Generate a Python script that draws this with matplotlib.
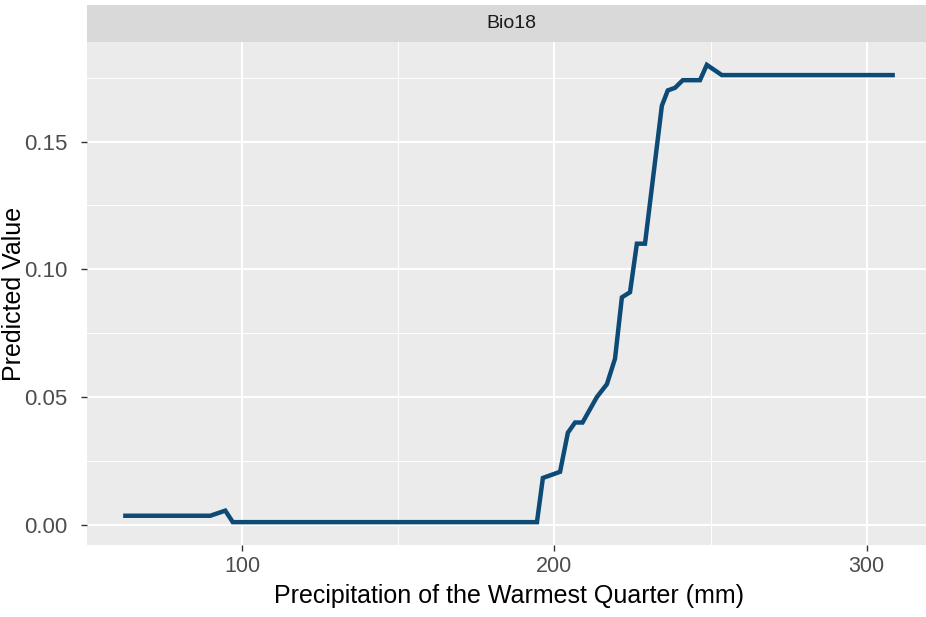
import matplotlib
matplotlib.use("Agg")
import matplotlib.pyplot as plt
from matplotlib.ticker import MultipleLocator

plt.rcParams['font.family'] = ['Liberation Sans', 'DejaVu Sans']

# Data
x_vals = [62.6, 89.8, 94.6, 97.0, 194.4, 196.3, 201.8, 204.3, 206.6, 209.0,
          213.6, 216.8, 219.4, 221.6, 224.2, 226.4, 229.0, 234.4, 236.3,
          238.6, 241.1, 246.6, 248.8, 253.6, 308.3]
y_vals = [0.0035, 0.0035, 0.0055, 0.0010, 0.0010, 0.0183, 0.0207, 0.0360, 0.0400, 0.0400,
          0.0500, 0.0550, 0.0650, 0.0890, 0.0910, 0.1100, 0.1100, 0.1640, 0.1700,
          0.1710, 0.1740, 0.1740, 0.1800, 0.1760, 0.1760]
x_ticks = [100, 200, 300]
y_ticks = [0.00, 0.05, 0.10, 0.15]
y_tick_labels = ["0.00", "0.05", "0.10", "0.15"]
strip_label = "Bio18"
x_label = "Precipitation of the Warmest Quarter (mm)"
y_label = "Predicted Value"

fig = plt.figure(figsize=(9.26, 6.17), dpi=100)
W, H = 926, 617
pl, pr, pb, pt = 87, 931, 545, 42
ax = fig.add_axes([pl / W, 1 - pb / H, (pr - pl) / W, (pb - pt) / H])
ax.set_facecolor('#ebebeb')
for s in ax.spines.values():
    s.set_visible(False)

ax.plot(x_vals, y_vals, color='#0d4a75', lw=3.2, solid_joinstyle='miter', zorder=3)

xr = max(x_vals) - min(x_vals)
yr = max(y_vals) - min(y_vals)
ax.set_xlim(min(x_vals) - 0.05 * xr, max(x_vals) + 0.05 * xr)
ax.set_ylim(min(y_vals) - 0.05 * yr, max(y_vals) + 0.05 * yr)

ax.set_xticks(x_ticks)
ax.set_yticks(y_ticks)
ax.set_yticklabels(y_tick_labels)
ax.xaxis.set_minor_locator(MultipleLocator(50))
ax.yaxis.set_minor_locator(MultipleLocator(0.025))
ax.grid(which='major', color='white', lw=1.5, zorder=0)
ax.grid(which='minor', color='white', lw=0.7, zorder=0)
ax.set_axisbelow(True)
ax.tick_params(which='major', length=4, color='#333333', labelsize=15.5, labelcolor='#4d4d4d', width=1.0)
ax.tick_params(axis='x', which='major', pad=4)
ax.tick_params(axis='y', which='major', pad=10, labelsize=16)
ax.tick_params(which='minor', length=0)

ax.set_xlabel(x_label, fontsize=18, color='black', labelpad=5)
ax.set_ylabel(y_label, fontsize=18, color='black')
ax.yaxis.set_label_coords((26 - pl) / (pr - pl), 0.5)

# facet strip
sax = fig.add_axes([pl / W, 1 - pt / H, (pr - pl) / W, 37 / H])
sax.set_facecolor('#d9d9d9')
sax.set_xticks([]); sax.set_yticks([])
for s in sax.spines.values():
    s.set_visible(False)
sax.text((511 - pl) / (pr - pl), 0.5, strip_label, ha='center', va='center', fontsize=14,
         color='#1a1a1a', transform=sax.transAxes)

fig.savefig('out.png', dpi=100)
